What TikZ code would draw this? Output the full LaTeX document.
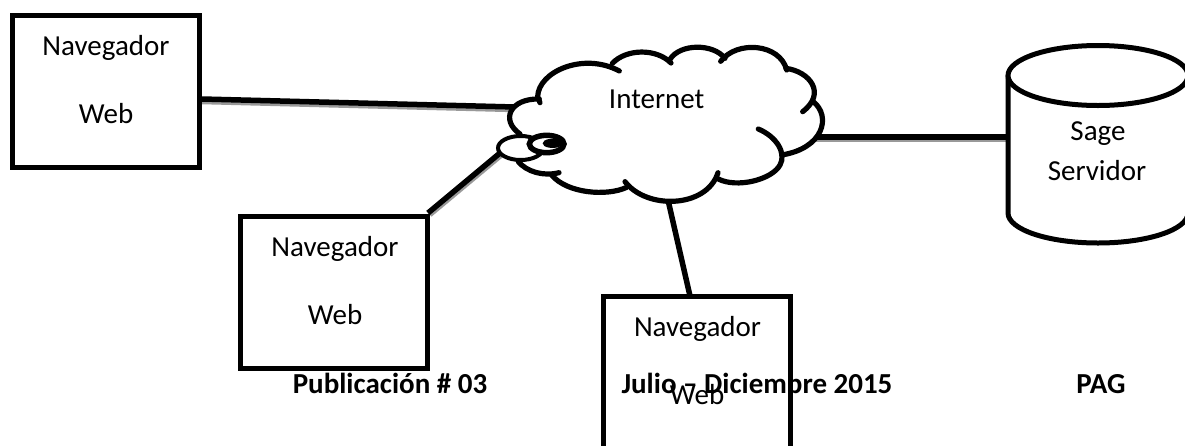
\documentclass[tikz,border=0pt]{standalone}
\usepackage{fontspec}
\setmainfont{Carlito}
\usetikzlibrary{calc}
\tikzset{
  webbox/.style={draw=black,line width=5pt,fill=white,rectangle,inner sep=0pt,outer sep=0pt},
  lbl/.style={font=\fontsize{29}{29}\selectfont,text=black,inner sep=0pt,anchor=base},
  foot/.style={font=\fontsize{29}{29}\selectfont\bfseries,text=black,inner sep=0pt,anchor=base},
  conn/.style={draw=black,line width=5.5pt},
  connshadow/.style={draw=black!40,line width=4.5pt},
  cloudline/.style={draw=black,line width=5.2pt,line cap=round},
}
\begin{document}
\begin{tikzpicture}[x=1pt,y=-1pt]
\useasboundingbox (0,0) rectangle (1185,445);
\clip (0,0) rectangle (1185,445);
\fill[white] (0,0) rectangle (1185,445);
% anchors of connectors
\coordinate (c1a) at (202,99); \coordinate (c1b) at (515,107);
\coordinate (c2a) at (428,213); \coordinate (c2b) at (500,153);
\coordinate (c3a) at (668,200); \coordinate (c3b) at (690,296);
\coordinate (c4a) at (812,137); \coordinate (c4b) at (1007,137);
% shadows
\draw[connshadow] ($(c1a)+(0,3)$) -- ($(c1b)+(0,3)$);
\draw[connshadow] ($(c2a)+(2,2)$) -- ($(c2b)+(2,2)$);
\draw[connshadow] ($(c4a)+(0,3)$) -- ($(c4b)+(0,3)$);
% connectors
\draw[conn] (c1a) -- (c1b);
\draw[conn] (c2a) -- (c2b);
\draw[conn] (c3a) -- (c3b);
\draw[conn] (c4a) -- (c4b);
% boxes
\node[webbox,minimum width=187pt,minimum height=152pt] (b1) at (106,91.5) {};
\node[webbox,minimum width=187pt,minimum height=152pt] (b2) at (334.2,292.2) {};
\node[webbox,minimum width=187pt,minimum height=260pt] (b3) at (697,426.5) {};
% cloud (coordinates in thirds of a pixel)
\begin{scope}[shift={(480,30)},x=1pt,y=-1pt,scale=1/3]
\fill[white] (175,210) .. controls (160,130) and (300,65) .. (395,100)
 .. controls (440,55) and (540,55) .. (572,90)
 .. controls (610,40) and (700,40) .. (730,85)
 .. controls (780,30) and (900,50) .. (920,115)
 .. controls (990,130) and (1030,180) .. (1000,215)
 .. controls (1050,250) and (1030,350) .. (905,375)
 .. controls (910,440) and (790,480) .. (715,450)
 .. controls (680,530) and (500,540) .. (440,470)
 .. controls (380,500) and (260,490) .. (215,435)
 .. controls (170,435) and (130,420) .. (110,390)
 -- (120,310)
 .. controls (60,270) and (100,205) .. (175,205) -- cycle;
\draw[cloudline] (180,218) .. controls (178,212) and (175,208) .. (173,200)
 .. controls (175,125) and (310,65) .. (418,123);
\draw[cloudline] (397,100) .. controls (440,55) and (530,55) .. (573,99);
\draw[cloudline] (570,88) .. controls (600,40) and (700,40) .. (735,85);
\draw[cloudline] (722,94) .. controls (770,30) and (900,40) .. (920,120);
\draw[cloudline] (918,115) .. controls (990,125) and (1040,190) .. (968,245);
\draw[cloudline] (1000,215) .. controls (1055,260) and (1030,355) .. (905,375);
\draw[cloudline] (835,297) .. controls (890,320) and (920,370) .. (900,405)
 .. controls (875,450) and (770,475) .. (715,447);
\draw[cloudline] (714,428) .. controls (680,535) and (500,540) .. (435,455);
\draw[cloudline] (440,472) .. controls (380,500) and (260,490) .. (215,435);
\draw[cloudline] (237,428) .. controls (190,440) and (140,425) .. (115,395);
\draw[cloudline] (120,312) .. controls (60,270) and (90,205) .. (178,207);
\draw[draw=black,line width=4pt,fill=white] (122,354) ellipse [x radius=68,y radius=36];
\draw[draw=black,line width=5.5pt,fill=white] (200,342) ellipse [x radius=52,y radius=26];
\draw[draw=black,line width=4.5pt,fill=white] (218,340) ellipse [x radius=22,y radius=7];
\end{scope}
% server
\coordinate (srvc) at (1098,75.5);
\draw[draw=black,line width=5pt,fill=white] (1008,75.5) -- (1008,213)
  arc[start angle=180,end angle=360,x radius=90,y radius=-30] -- (1188,75.5);
\draw[draw=black,line width=5pt,fill=white] (srvc) ellipse [x radius=90,y radius=30];
% labels
\node[lbl] (t1a) at (106,55) {Navegador};
\node[lbl] (t1b) at (106,123) {Web};
\node[lbl] (t2a) at (335,256.7) {Navegador};
\node[lbl] (t2b) at (335,324) {Web};
\node[lbl] (t3a) at (697.5,336.7) {Navegador};
\node[lbl] (t3b) at (697,404) {Web};
\node[lbl] (t4) at (656.7,108) {Internet};
\node[lbl] (t5a) at (1098,140) {Sage};
\node[lbl] (t5b) at (1097,180.7) {Servidor};
\node[foot] (f1) at (390,393) {Publicación \# 03};
\node[foot] (f2) at (757,393) {Julio – Diciembre 2015};
\node[foot] (f3) at (1101,393) {PAG};
\draw[draw=black,line width=5pt] (b3.south west) -- (b3.north west) -- (b3.north east) -- (b3.south east);
\end{tikzpicture}
\end{document}
